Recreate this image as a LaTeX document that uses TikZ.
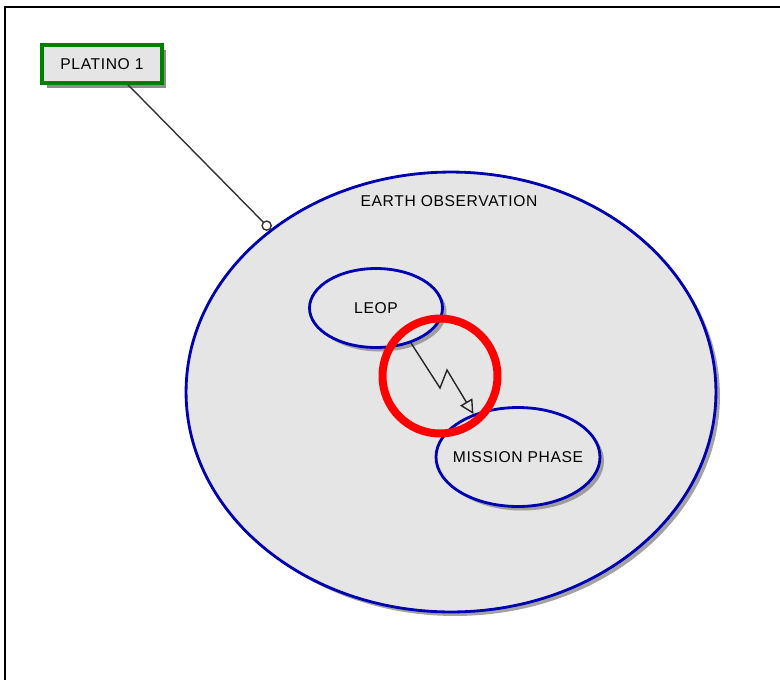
\documentclass[tikz,border=0pt]{standalone}
\usepackage{fontspec}
\setmainfont[LetterSpace=4]{Liberation Sans}
\usetikzlibrary{shapes, arrows.meta, shadows, positioning}

\begin{document}
\begin{tikzpicture}[x=0.02cm, y=-0.02cm, font=\fontsize{8.9pt}{11pt}\selectfont,
  usecase/.style={draw=blue!70!black, line width=1.6pt, fill=black!10, ellipse, inner sep=0pt,
    drop shadow={shadow xshift=0.08cm, shadow yshift=-0.08cm, fill=black!45, opacity=0.8}},
  actor/.style={draw=green!50!black, line width=2pt, fill=black!10, inner sep=0pt,
    minimum width=2.4cm, minimum height=0.76cm,
    drop shadow={shadow xshift=0.09cm, shadow yshift=-0.09cm, fill=black!45, opacity=1}}]
\useasboundingbox (0,0) rectangle (780,680);
\draw[line width=0.05cm] (780,7) -- (5,7) -- (5,680);

\node[actor] (platino) at (102,64) {PLATINO 1};

\node[usecase, minimum width=10.6cm, minimum height=8.8cm] (eo) at (451,392) {};
\node (eo-label) at (449,201) {EARTH OBSERVATION};

\node[usecase, minimum width=2.66cm, minimum height=1.58cm, label={[name=leop-label]center:LEOP}] (leop) at (376,308) {};
\node[usecase, minimum width=3.28cm, minimum height=1.98cm, label={[name=mission-label]center:MISSION PHASE}] (mission) at (518,457) {};

\draw[black!80, line width=0.8pt, -{Circle[open, length=6pt, fill=white]}] ([xshift=0.52cm] platino.south) -- (eo.138);

\coordinate (z1) at (440,388);
\coordinate (z2) at (447,370);
\draw[black!85, line width=0.8pt, -{Triangle[open, length=8pt, width=8pt]}] (leop.-45) -- (z1) -- (z2) -- (mission.136);

\node[draw=red, line width=0.16cm, circle, minimum size=2.3cm, inner sep=0pt] (hl) at (440,376) {};
\end{tikzpicture}
\end{document}
